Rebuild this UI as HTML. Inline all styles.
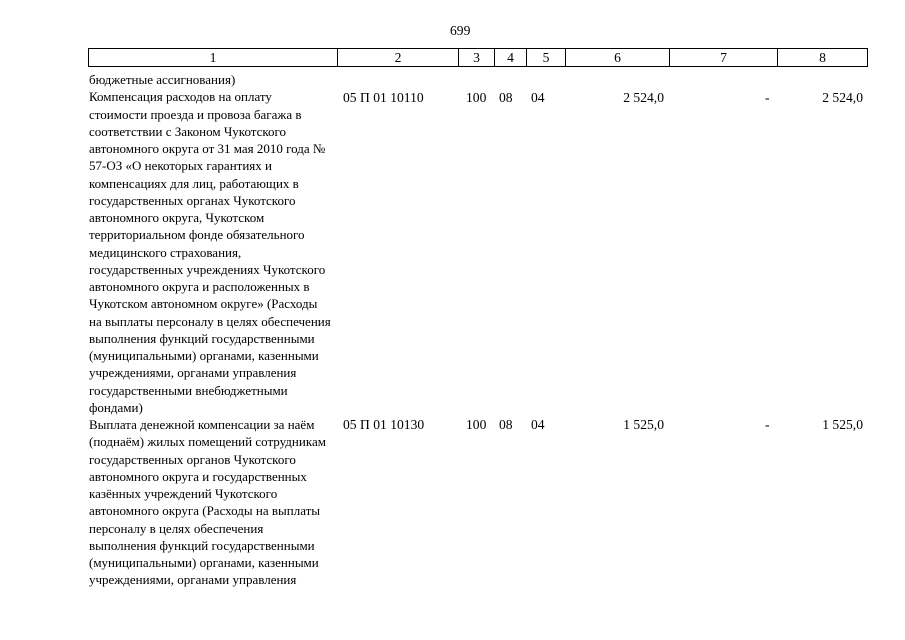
<!DOCTYPE html>
<html><head><meta charset="utf-8"><style>
body{margin:0;background:#fff;width:905px;height:640px;overflow:hidden;position:relative;font-family:"Liberation Serif",serif;font-size:13.6px;color:#000}
.t{position:absolute;white-space:nowrap;line-height:17.25px}
.b{font-size:13px}
.h{position:absolute;top:48px;height:19px;border:1px solid #000;border-right:none;box-sizing:border-box;text-align:center;line-height:17px}
.r{text-align:right}
</style></head><body>
<div class="t" style="left:450px;top:22px">699</div>
<div class="h" style="left:88px;width:249px">1</div>
<div class="h" style="left:337px;width:121px">2</div>
<div class="h" style="left:458px;width:36px">3</div>
<div class="h" style="left:494px;width:32px">4</div>
<div class="h" style="left:526px;width:39px">5</div>
<div class="h" style="left:565px;width:104px">6</div>
<div class="h" style="left:669px;width:108px">7</div>
<div class="h" style="left:777px;width:91px;border-right:1px solid #000">8</div>
<div class="t b" style="left:89px;top:71px">бюджетные ассигнования)<br>Компенсация расходов на оплату<br>стоимости проезда и провоза багажа в<br>соответствии с Законом Чукотского<br>автономного округа от 31 мая 2010 года №<br>57-ОЗ «О некоторых гарантиях и<br>компенсациях для лиц, работающих в<br>государственных органах Чукотского<br>автономного округа, Чукотском<br>территориальном фонде обязательного<br>медицинского страхования,<br>государственных учреждениях Чукотского<br>автономного округа и расположенных в<br>Чукотском автономном округе» (Расходы<br>на выплаты персоналу в целях обеспечения<br>выполнения функций государственными<br>(муниципальными) органами, казенными<br>учреждениями, органами управления<br>государственными внебюджетными<br>фондами)<br>Выплата денежной компенсации за наём<br>(поднаём) жилых помещений сотрудникам<br>государственных органов Чукотского<br>автономного округа и государственных<br>казённых учреждений Чукотского<br>автономного округа (Расходы на выплаты<br>персоналу в целях обеспечения<br>выполнения функций государственными<br>(муниципальными) органами, казенными<br>учреждениями, органами управления</div>
<div class="t" style="left:343px;top:88.5px">05 П 01 10110</div>
<div class="t" style="left:466px;top:88.5px">100</div>
<div class="t" style="left:499px;top:88.5px">08</div>
<div class="t" style="left:531px;top:88.5px">04</div>
<div class="t r" style="right:241px;top:88.5px">2 524,0</div>
<div class="t" style="left:765px;top:88.5px">-</div>
<div class="t r" style="right:42px;top:88.5px">2 524,0</div>
<div class="t" style="left:343px;top:416.3px">05 П 01 10130</div>
<div class="t" style="left:466px;top:416.3px">100</div>
<div class="t" style="left:499px;top:416.3px">08</div>
<div class="t" style="left:531px;top:416.3px">04</div>
<div class="t r" style="right:241px;top:416.3px">1 525,0</div>
<div class="t" style="left:765px;top:416.3px">-</div>
<div class="t r" style="right:42px;top:416.3px">1 525,0</div>
</body></html>
